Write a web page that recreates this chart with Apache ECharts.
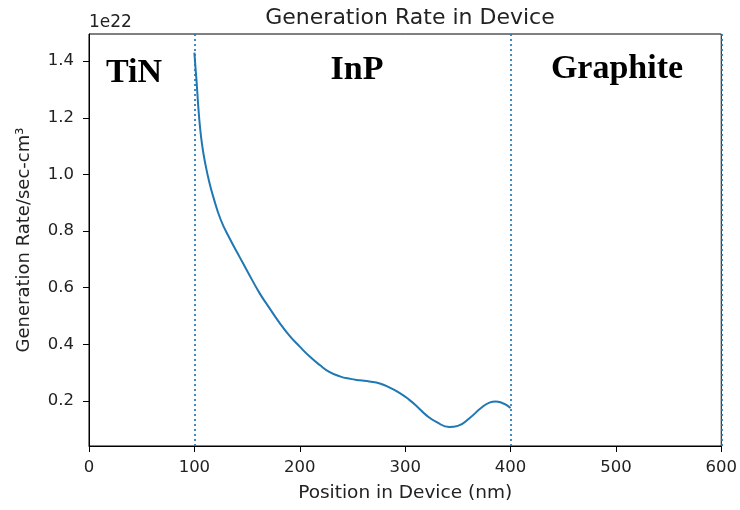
<!DOCTYPE html>
<html>
<head>
<meta charset="utf-8">
<script src="https://cdn.jsdelivr.net/npm/echarts@6/dist/echarts.min.js"></script>
<style>
  html, body { margin: 0; padding: 0; background: #fff; }
  #chart { width: 740px; height: 510px; }
</style>
</head>
<body>
<div id="chart"></div>
<script>
// Position through the device (nm)
const positions = [100, 101, 102, 103.6, 105.4, 107.5, 110, 114, 118, 125, 134, 143, 150, 162, 170, 181, 190, 200, 210, 219, 228, 238, 248, 257, 266, 276, 285, 295, 304, 312, 320, 330, 342, 350, 361, 372, 380, 386, 392, 396, 400];
// Generation rate, in units of 1e22 /sec-cm^3
const rates = [1.43, 1.38, 1.333, 1.245, 1.165, 1.1, 1.045, 0.975, 0.92, 0.84, 0.77, 0.708, 0.66, 0.58, 0.535, 0.475, 0.432, 0.392, 0.355, 0.327, 0.303, 0.287, 0.278, 0.273, 0.269, 0.262, 0.248, 0.228, 0.204, 0.178, 0.150, 0.125, 0.108, 0.112, 0.139, 0.175, 0.194, 0.198, 0.193, 0.186, 0.175];
// Layer boundaries (nm)
const boundaries = [100, 400, 600];
// Layer names
const layers = ['TiN', 'InP', 'Graphite'];
const yTicks = [0.2, 0.4, 0.6, 0.8, 1.0, 1.2, 1.4];

const blue = '#1f77b4';
const ink = '#222';
const sans = 'DejaVu Sans';
const layerFont = 'bold 34px "Liberation Serif"';

const chart = echarts.init(document.getElementById('chart'), null, { renderer: 'canvas' });

chart.setOption({
  animation: false,
  backgroundColor: '#fff',
  title: {
    text: 'Generation Rate in Device',
    left: 405, top: 2, textAlign: 'center',
    textStyle: { fontFamily: sans, fontSize: 22, fontWeight: 'normal', color: ink }
  },
  grid: {
    left: 89, right: 18, top: 34, bottom: 64,
    show: true, borderColor: '#000', borderWidth: 1, backgroundColor: 'transparent'
  },
  xAxis: {
    type: 'value', min: 0, max: 600, interval: 100,
    name: 'Position in Device (nm)', nameLocation: 'middle', nameGap: 38,
    nameTextStyle: { fontFamily: sans, fontSize: 18.5, color: ink },
    axisLine: { show: true, lineStyle: { color: '#000', width: 1 } },
    axisTick: { show: true, inside: false, length: 6, lineStyle: { color: '#000' } },
    axisLabel: { fontFamily: sans, fontSize: 16.5, color: ink, margin: 13 },
    splitLine: { show: false }
  },
  yAxis: {
    type: 'value', min: 0.041, max: 1.496,
    name: 'Generation Rate/sec-cm\u00b3', nameLocation: 'middle', nameGap: 56,
    nameTextStyle: { fontFamily: sans, fontSize: 18, color: ink },
    axisLine: { show: true, lineStyle: { color: '#000', width: 1 } },
    axisTick: { show: true, inside: false, length: 6, customValues: yTicks, lineStyle: { color: '#000' } },
    axisLabel: { fontFamily: sans, fontSize: 16.5, color: ink, margin: 15, customValues: yTicks,
      formatter: v => v.toFixed(1) },
    splitLine: { show: false }
  },
  graphic: [
    { type: 'text', x: 89, y: 23,
      style: { text: '1e22', font: '17px "DejaVu Sans"', fill: ink, textAlign: 'left', textVerticalAlign: 'middle' } },
    { type: 'text', x: 134, y: 73,
      style: { text: layers[0], font: layerFont, fill: '#000', textAlign: 'center', textVerticalAlign: 'middle' } },
    { type: 'text', x: 357, y: 70,
      style: { text: layers[1], font: layerFont, fill: '#000', textAlign: 'center', textVerticalAlign: 'middle' } },
    { type: 'text', x: 617, y: 69.5,
      style: { text: layers[2], font: layerFont, fill: '#000', textAlign: 'center', textVerticalAlign: 'middle' } }
  ],
  series: [{
    type: 'line',
    data: positions.map((x, i) => [x, rates[i]]),
    smooth: 0.5,
    showSymbol: false,
    lineStyle: { color: blue, width: 2 },
    markLine: {
      silent: true, symbol: 'none',
      label: { show: false },
      lineStyle: { color: blue, type: [2, 3], width: 2, opacity: 0.85 },
      data: boundaries.map(b => ({ xAxis: b }))
    }
  }]
});
</script>
</body>
</html>
